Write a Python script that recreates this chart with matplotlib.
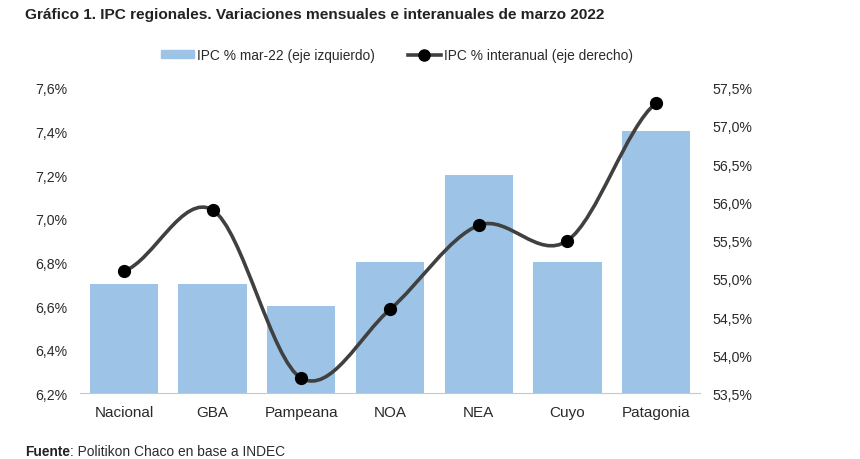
import matplotlib.pyplot as plt
import numpy as np
from matplotlib.path import Path
from matplotlib.patches import PathPatch

regiones = ["Nacional", "GBA", "Pampeana", "NOA", "NEA", "Cuyo", "Patagonia"]
mensual = [6.7, 6.7, 6.6, 6.8, 7.2, 6.8, 7.4]
interanual = [55.1, 55.9, 53.7, 54.6, 55.7, 55.5, 57.3]
ticks_izq = [6.2, 6.4, 6.6, 6.8, 7.0, 7.2, 7.4, 7.6]
ticks_der = [53.5, 54.0, 54.5, 55.0, 55.5, 56.0, 56.5, 57.0, 57.5]

plt.rcParams['font.family'] = ['Liberation Sans', 'DejaVu Sans']
plt.rcParams['font.size'] = 10.2
plt.rcParams['text.color'] = '#2a2a2a'

fig = plt.figure(figsize=(8.6, 4.6), dpi=100)
ax = fig.add_axes([0.0925, 0.1425, 0.722, 0.6645])
ax2 = ax.twinx()

x = np.arange(len(regiones))
# Barras eje izquierdo
ax.bar(x, mensual, width=0.77, color='#9dc3e6', label='IPC % mar-22 (eje izquierdo)')
ax.set_ylim(6.2, 7.6)
ax.set_xlim(-0.5, 6.5)
ax.set_yticks(ticks_izq)
ax.set_yticklabels([f"{t:.1f}%".replace('.', ',') for t in ticks_izq], color='#2a2a2a')
ax.set_xticks(x)
ax.set_xticklabels(regiones, fontsize=11, color='#2a2a2a')
ax.tick_params(length=0, pad=8.5)
ax.tick_params(axis='x', pad=8)
for s in ['top', 'left', 'right']:
    ax.spines[s].set_visible(False)
ax.spines['bottom'].set_color('#c8c8c8')

# Linea suavizada eje derecho (bezier tipo Excel)
verts = [(x[0], interanual[0])]
codes = [Path.MOVETO]
for i in range(len(x) - 1):
    p0 = interanual[max(i - 1, 0)]
    p1 = interanual[i]
    p2 = interanual[i + 1]
    p3 = interanual[min(i + 2, len(x) - 1)]
    verts += [(x[i] + 1 / 3, p1 + (p2 - p0) / 6), (x[i + 1] - 1 / 3, p2 - (p3 - p1) / 6), (x[i + 1], p2)]
    codes += [Path.CURVE4, Path.CURVE4, Path.CURVE4]
ax2.add_patch(PathPatch(Path(verts, codes), fill=False, edgecolor='#404040', linewidth=2.6))
ax2.plot(x, interanual, linestyle='none', marker='o', markersize=8.5, color='black')
ax2.set_ylim(53.5, 57.5)
ax2.set_yticks(ticks_der)
ax2.set_yticklabels([f"{t:.1f}%".replace('.', ',') for t in ticks_der], color='#2a2a2a')
ax2.tick_params(length=0, pad=8.5)
for s in ['top', 'left', 'right', 'bottom']:
    ax2.spines[s].set_visible(False)

# Leyenda
linea = plt.Line2D([], [], color='#404040', linewidth=2.6, marker='o', markersize=8,
                   markerfacecolor='black', markeredgecolor='black')
barra = plt.Rectangle((0, 0), 1, 1, color='#9dc3e6')
fig.legend([barra, linea], ['IPC % mar-22 (eje izquierdo)', 'IPC % interanual (eje derecho)'],
           loc='center', bbox_to_anchor=(0.4616, 0.878), ncol=2, frameon=False,
           fontsize=9.9, handlelength=2.4, handleheight=0.5, columnspacing=2.4, handletextpad=0.25)

fig.text(0.029, 0.967, 'Gráfico 1. IPC regionales. Variaciones mensuales e interanuales de marzo 2022',
         fontsize=11.1, fontweight='bold', va='center', color='#222222')
fuente = fig.text(0.029, 0.018, 'Fuente', fontsize=9.9, fontweight='bold', va='center', color='#222222')
fig.text(0.0815, 0.018, ': Politikon Chaco en base a INDEC', fontsize=9.9, va='center')

fig.savefig('out.png', dpi=100)
plt.close()
